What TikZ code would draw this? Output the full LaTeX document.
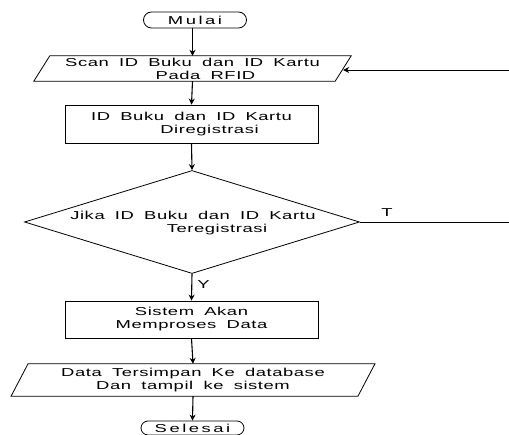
\documentclass[tikz,border=0pt]{standalone}
\usepackage{fontspec}
\usetikzlibrary{shapes.geometric,shapes.misc,arrows.meta}
% wide, loosely spaced sans for the flowchart labels
\newfontfamily\flowfont[FakeStretch=1.6,LetterSpace=5,WordSpace=1.8]{Liberation Sans}
\newfontfamily\termfont[FakeStretch=1.6,LetterSpace=22]{Liberation Sans}

\begin{document}
\begin{tikzpicture}[x=1pt,y=-1pt,
  every node/.style={font=\flowfont\fontsize{11.5}{13}\selectfont, inner sep=0pt},
  outline/.style={draw=black, line width=0.8pt},
  terminal/.style={rounded rectangle, outline, minimum width=103pt, minimum height=16pt,
    font=\termfont\fontsize{11.5}{13}\selectfont},
  process/.style={rectangle, outline, minimum width=253pt, align=center},
  iobox/.style={rectangle, align=center},
  decision/.style={diamond, outline, minimum width=335pt, minimum height=103pt},
  flow/.style={-{Stealth[length=6pt,width=6pt]}, line width=1.1pt},
  branch/.style={line width=0.8pt}]

\useasboundingbox (0,0) rectangle (509,435);
\clip (0,0) rectangle (509,435);

% start
\node[terminal] (start) at (195,20) {Mulai};

% input: scan
\node[iobox, minimum width=301pt, minimum height=25pt] (scan) at (192.5,68.5)
  {Scan ID Buku dan ID Kartu\\\hspace*{26pt}Pada RFID};
\draw[outline] ([xshift=-8pt]scan.south west) -- ([xshift=-8pt]scan.south east)
  -- ([xshift=8pt]scan.north east) -- ([xshift=8pt]scan.north west) -- cycle;

% process: registration
\node[process, minimum height=38pt] (reg) at (191.5,124)
  {ID Buku dan ID Kartu\\\hspace*{36pt}Diregistrasi};

% decision
\node[decision] (dec) at (192,222) {};
\node[align=center] (dectext) at (193,223.5)
  {Jika ID Buku dan ID Kartu\\\hspace*{48pt}Teregistrasi};

% process: data handling
\node[process, minimum height=37pt] (proc) at (191.5,319.5)
  {Sistem Akan\\Memproses Data};

% output
\node[iobox, minimum width=346.5pt, minimum height=32pt] (out) at (193,380)
  {Data Tersimpan Ke database\\Dan tampil ke sistem};
\draw[outline] ([xshift=-8.5pt]out.south west) -- ([xshift=-8.5pt]out.south east)
  -- ([xshift=8.5pt]out.north east) -- ([xshift=8.5pt]out.north west) -- cycle;

% end
\node[terminal, minimum height=14pt] (stop) at (192.5,428) {Selesai};

% main flow
\draw[flow] (start.south -| scan.north) -- (scan.north);
\draw[flow] (scan.south) -- (reg.north);
\draw[flow] (reg.south) -- (dec.north);
\draw[flow] (dec.south) -- (proc.north) node[pos=0.4, right=5pt] (ylabel) {Y};
\draw[flow] (proc.south) -- (out.north);
\draw[flow] (out.south) -- (stop.north);

% "no" branch back to the scan step
\coordinate (tend) at (509,222);
\coordinate (back) at (509,70);
\draw[branch] (dec.east) -- (tend);
\node (tlabel) at (387,213) {T};
\draw[flow, line width=0.8pt] (back) -- (back -| scan.east);

\end{tikzpicture}
\end{document}
